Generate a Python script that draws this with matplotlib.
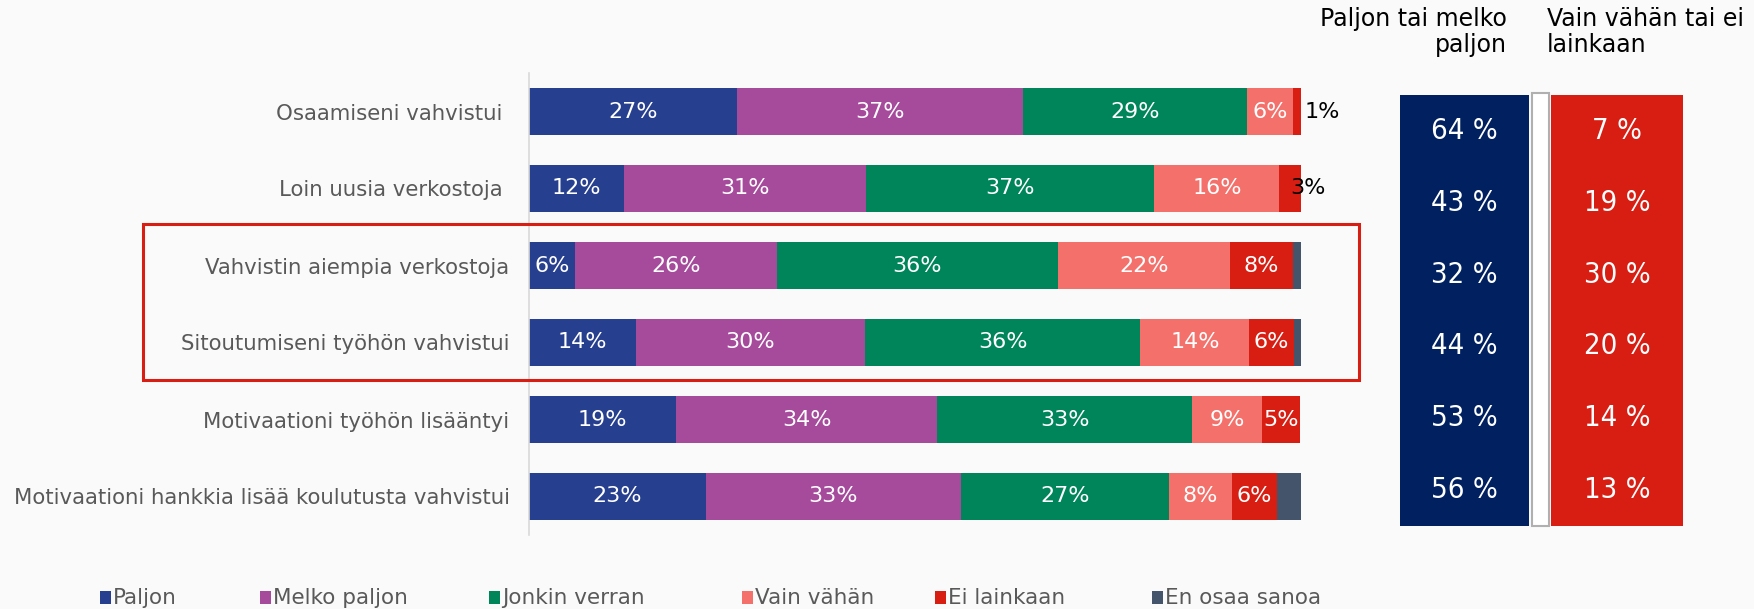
import numpy as np
from matplotlib import pyplot as plt
from matplotlib.patches import Rectangle
from matplotlib import font_manager

# categories (top to bottom)
categories = ['Osaamiseni vahvistui ', 'Loin uusia verkostoja ', 'Vahvistin aiempia verkostoja',
              'Sitoutumiseni työhön vahvistui', 'Motivaationi työhön lisääntyi',
              'Motivaationi hankkia lisää koulutusta vahvistui']
series_names = ['Paljon', 'Melko paljon', 'Jonkin verran', 'Vain vähän', 'Ei lainkaan', 'En osaa sanoa']
series_colors = ['#273f8f', '#a64a9c', '#00855a', '#f4706a', '#d81e13', '#44546a']

# segment shares (%)
paljon = [27, 12.3, 5.9, 13.8, 19, 22.9]
melko = [37, 31.3, 26.2, 29.7, 33.9, 33]
jonkin = [29, 37.4, 36.4, 35.7, 33, 27]
vain = [6, 16.2, 22.3, 14.1, 9.1, 8.1]
ei = [1, 2.8, 8.1, 5.8, 4.9, 5.9]
eos = [0, 0, 1.1, 0.9, 0, 3.1]

# printed labels
labels = [['27%', '37%', '29%', '6%', '1%', ''],
          ['12%', '31%', '37%', '16%', '3%', ''],
          ['6%', '26%', '36%', '22%', '8%', ''],
          ['14%', '30%', '36%', '14%', '6%', ''],
          ['19%', '34%', '33%', '9%', '5%', ''],
          ['23%', '33%', '27%', '8%', '6%', '']]

# summary columns
paljon_tai_melko = [64, 43, 32, 44, 53, 56]
vain_tai_ei = [7, 19, 30, 20, 14, 13]

# pick a narrow face for the summary numbers if one is installed
installed = {f.name for f in font_manager.fontManager.ttflist}
narrow_kw = dict(family=['Liberation Sans', 'DejaVu Sans'], fontsize=21)
if 'Liberation Sans Narrow' in installed:
    narrow_kw = dict(family=['Liberation Sans Narrow', 'DejaVu Sans'], fontsize=23)
elif any(f.name == 'DejaVu Sans' and f.stretch == 'condensed' for f in font_manager.fontManager.ttflist):
    narrow_kw = dict(family=['DejaVu Sans'], fontstretch='condensed', fontsize=21)

W, H = 1754, 609
bg = '#fafafa'
fig = plt.figure(figsize=(W / 100, H / 100), dpi=100, facecolor=bg)

# main stacked bars
ax = fig.add_axes([529 / W, 1 - 535 / H, 772 / W, 462 / H])
ax.set_facecolor(bg)
ax.set_xlim(0, 100)
ax.set_ylim(5.5, -0.5)
y = np.arange(len(categories))
data = [paljon, melko, jonkin, vain, ei, eos]
left = np.zeros(len(categories))
for k, vals in enumerate(data):
    vals = np.array(vals, dtype=float)
    ax.barh(y, vals, left=left, height=0.62, color=series_colors[k], edgecolor='none')
    for i in range(len(categories)):
        lab = labels[i][k]
        if lab == '':
            continue
        if vals[i] < 4 and k == 4:
            ax.text(left[i] + 1.4, y[i], lab, ha='left', va='center', color='black', fontsize=16)
        else:
            ax.text(left[i] + vals[i] / 2, y[i], lab, ha='center', va='center', color='white', fontsize=16)
    left += vals

ax.set_yticks(y)
ax.set_yticklabels(categories, fontsize=15.3, color='#595959')
ax.tick_params(axis='y', length=0, pad=14)
ax.set_xticks([])
for s in ['top', 'right', 'bottom']:
    ax.spines[s].set_visible(False)
ax.spines['left'].set_color('#d9d9d9')
ax.spines['left'].set_linewidth(1.2)

# summary panel
ax2 = fig.add_axes([1400 / W, 1 - 526 / H, 283 / W, 431 / H])
ax2.set_xlim(0, 1)
ax2.set_ylim(5.5, -0.5)
ax2.axis('off')
ax2.barh(y, [0.456] * 6, left=0, height=1.0, color='#002060', edgecolor='none')
ax2.barh(y, [0.466] * 6, left=0.534, height=1.0, color='#d81e13', edgecolor='none')
ax2.add_patch(Rectangle((0.466, -0.53), 0.061, 6.03, facecolor='white', edgecolor='#b0b0b0', lw=1.5, clip_on=False))
for i in range(len(categories)):
    ax2.text(0.228, y[i], f'{paljon_tai_melko[i]} %', ha='center', va='center', color='white', **narrow_kw)
    ax2.text(0.767, y[i], f'{vain_tai_ei[i]} %', ha='center', va='center', color='white', **narrow_kw)

fig.text(1507 / W, 1 - 7 / H, 'Paljon tai melko\npaljon', ha='right', va='top', fontsize=17,
         color='black', linespacing=1.1, multialignment='right')
fig.text(1547 / W, 1 - 7 / H, 'Vain vähän tai ei\nlainkaan', ha='left', va='top', fontsize=17,
         color='black', linespacing=1.1)

# highlight box
fig.add_artist(Rectangle((143 / W, 1 - 380 / H), (1359 - 143) / W, 156 / H, fill=False,
                         edgecolor='#d81e13', lw=2.2, transform=fig.transFigure))

# legend
leg_x = [100, 260, 489, 742, 935, 1152]
for k, name in enumerate(series_names):
    fig.add_artist(Rectangle((leg_x[k] / W, 1 - 604 / H), 11 / W, 13 / H, facecolor=series_colors[k],
                             edgecolor='none', transform=fig.transFigure))
    fig.text((leg_x[k] + 13) / W, 1 - 598 / H, name, ha='left', va='center', fontsize=15.5, color='#595959')

plt.savefig('out.png', dpi=100, facecolor=bg)
